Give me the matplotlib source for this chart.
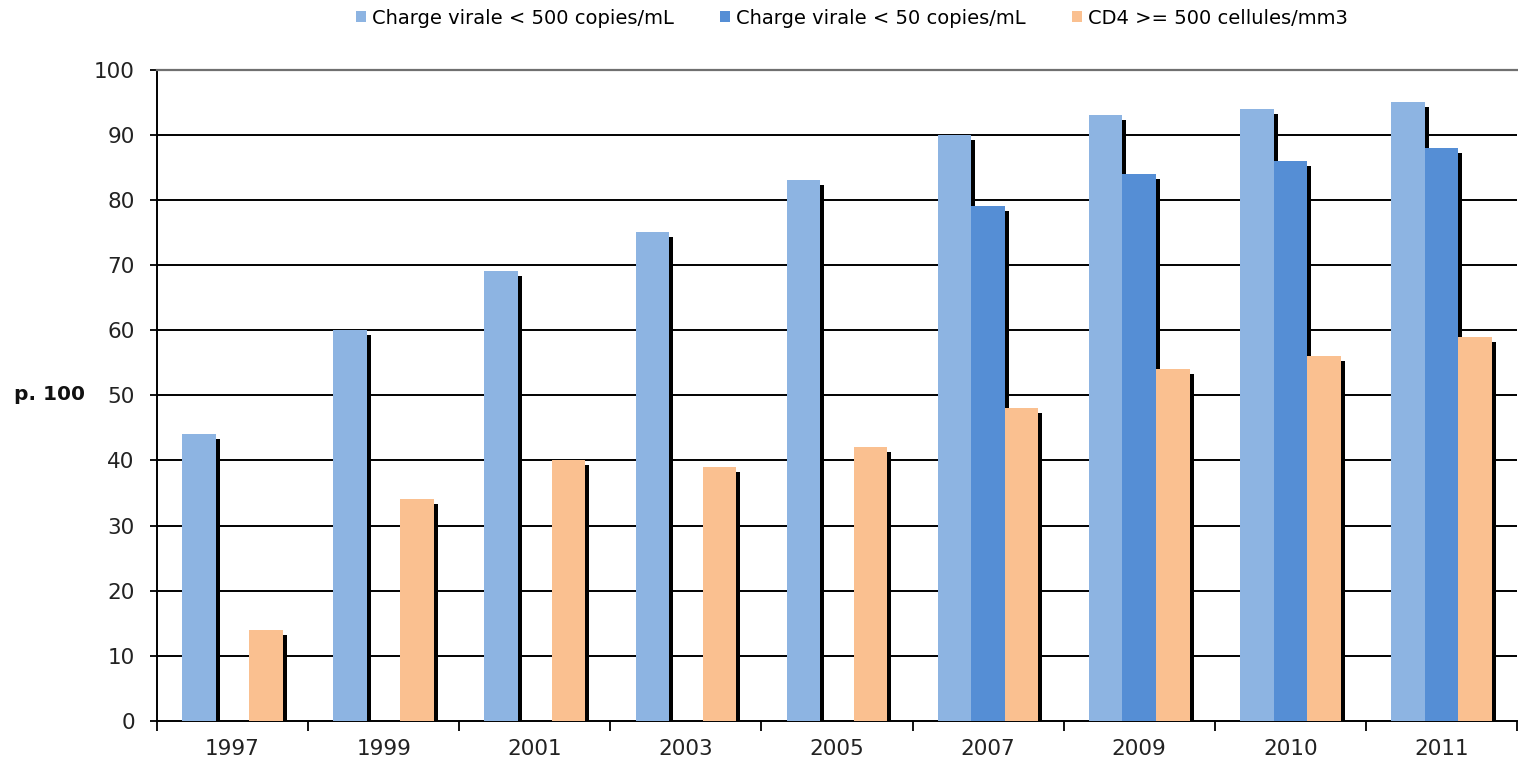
import numpy as np
import matplotlib
matplotlib.use("Agg")
import matplotlib.pyplot as plt
from matplotlib.transforms import ScaledTranslation

# Data
years = ["1997", "1999", "2001", "2003", "2005", "2007", "2009", "2010", "2011"]
cv_500 = [44, 60, 69, 75, 83, 90, 93, 94, 95]
cv_50 = [None, None, None, None, None, 79, 84, 86, 88]
cd4_500 = [14, 34, 40, 39, 42, 48, 54, 56, 59]
series_labels = ["Charge virale < 500 copies/mL",
                 "Charge virale < 50 copies/mL",
                 "CD4 >= 500 cellules/mm3"]
series_colors = ["#8DB4E2", "#558ED5", "#FAC090"]
y_ticks = list(range(0, 101, 10))

plt.rcParams["font.family"] = ["DejaVu Sans"]

W, H = 1518, 758
fig = plt.figure(figsize=(W / 100, H / 100), dpi=100)
ax = fig.add_axes([157 / W, 37 / H, 1360 / W, 651.5 / H])

x = np.arange(len(years))
bw = 0.222
offsets = [-bw, 0.0, bw]
shadow_tr = ax.transData + ScaledTranslation(4 / 100, -5 / 100, fig.dpi_scale_trans)

handles = []
for series, off, col, lab in zip([cv_500, cv_50, cd4_500], offsets, series_colors, series_labels):
    xs = [xi + off for xi, v in zip(x, series) if v is not None]
    vs = [v for v in series if v is not None]
    # drop shadow behind each bar
    ax.bar(xs, vs, width=bw, color="black", linewidth=0, zorder=2, transform=shadow_tr)
    h = ax.bar(xs, vs, width=bw, color=col, linewidth=0, zorder=3, label=lab)
    handles.append(h)

# horizontal gridlines
ax.hlines(y_ticks[1:-1], -0.5, len(years) - 0.5, colors="black", linewidth=1.4, zorder=1)

ax.set_xlim(-0.5, len(years) - 0.5)
ax.set_ylim(0, 100)
ax.set_yticks(y_ticks)
ax.set_xticks(x)
ax.set_xticklabels(years)
ax.set_xticks(np.arange(len(years) + 1) - 0.5, minor=True)
ax.tick_params(axis="x", which="major", length=0, pad=13, labelsize=15.5, labelcolor="#222222")
ax.tick_params(axis="x", which="minor", length=7, width=1.3, direction="out", color="black")
ax.tick_params(axis="y", length=5, width=1.3, pad=11, labelsize=15.5, labelcolor="#222222")

ax.spines["right"].set_visible(False)
ax.spines["top"].set_color("#707070")
ax.spines["top"].set_linewidth(1.6)
ax.spines["left"].set_linewidth(1.4)
ax.spines["bottom"].set_linewidth(1.4)

fig.text(50 / W, 1 - 395 / H, "p. 100", ha="center", va="center",
         fontsize=14.5, fontweight="bold", color="#111111")

fig.legend(handles=handles, labels=series_labels, loc="center",
           bbox_to_anchor=(852 / W, 1 - 18 / H), ncol=3, frameon=False,
           fontsize=14, handlelength=0.5, handleheight=0.5,
           handletextpad=0.3, columnspacing=2.4, borderaxespad=0)

fig.savefig("out.png", dpi=100)
